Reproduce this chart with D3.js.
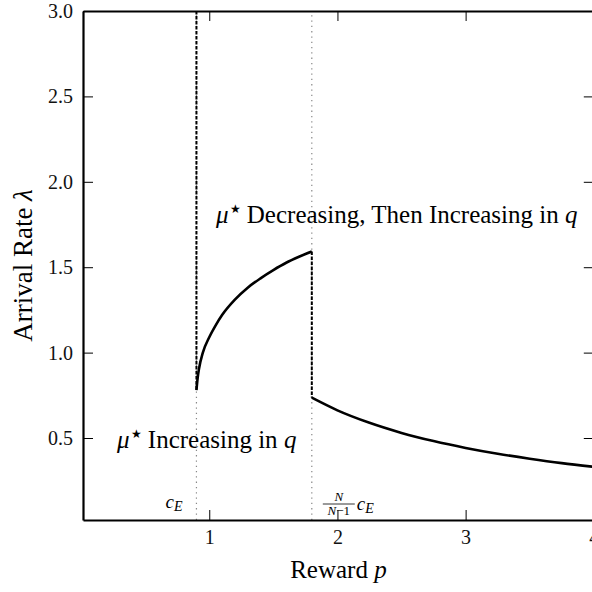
<!DOCTYPE html>
<html>
<head>
<meta charset="utf-8">
<script src="https://cdn.jsdelivr.net/npm/d3@7"></script>
<style>
  body { margin: 0; background: #fff; }
  svg { display: block; font-family: "Liberation Serif", "DejaVu Serif", serif; }
</style>
</head>
<body>
<svg></svg>
<script>
    // values
    risingP = [0.90, 0.91, 0.92, 0.95, 1.00, 1.05, 1.10, 1.20, 1.30, 1.40, 1.50, 1.60, 1.70, 1.80];
    risingL = [0.78, 0.855, 0.905, 1.00, 1.09, 1.16, 1.22, 1.31, 1.38, 1.435, 1.483, 1.526, 1.561, 1.592];
    fallingP = [1.80, 2.00, 2.25, 2.50, 2.75, 3.00, 3.25, 3.50, 3.75, 4.00];
    fallingL = [0.736, 0.662, 0.589, 0.530, 0.482, 0.442, 0.408, 0.379, 0.353, 0.331];
    jumpP = [0.9, 1.8];
    jumpTop = [3.0, 1.592];
    jumpBottom = [0.78, 0.736];
    thresholds = [0.9, 1.8];
    xticks = [1, 2, 3, 4];
    yticks = [0.5, 1.0, 1.5, 2.0, 2.5, 3.0];
    xdomain = [0.015, 4.0];
    ydomain = [0.02, 3.0];
</script>
<script>
    svg = d3.select("svg").attr("width", 592).attr("height", 592);
    xs = d3.scaleLinear().domain(xdomain).range([83, 593.8]);
    ys = d3.scaleLinear().domain(ydomain).range([520, 11]);

    //dotted threshold lines
    svg.append("g").selectAll("line").data(thresholds).enter().append("line")
    .attr("x1", function(d){return xs(d);})
    .attr("x2", function(d){return xs(d);})
    .attr("y1", ys(ydomain[0]))
    .attr("y2", ys(ydomain[1]))
    .attr("stroke", "#888")
    .attr("stroke-width", 1.2)
    .attr("stroke-dasharray", "1.3,4");

    //dashed jumps
    svg.append("g").selectAll("line").data(jumpP).enter().append("line")
    .attr("x1", function(d){return xs(d);})
    .attr("x2", function(d){return xs(d);})
    .attr("y1", function(d,i){return ys(jumpTop[i]);})
    .attr("y2", function(d,i){return ys(jumpBottom[i]);})
    .attr("stroke", "#000")
    .attr("stroke-width", 2)
    .attr("stroke-dasharray", "3.5,1.5");

    //the two curve pieces
    line = d3.line()
    .x(function(d){return xs(d[0]);})
    .y(function(d){return ys(d[1]);})
    .curve(d3.curveMonotoneX);
    pieces = [d3.zip(risingP, risingL), d3.zip(fallingP, fallingL)];
    svg.append("g").selectAll("path").data(pieces).enter().append("path")
    .attr("d", line)
    .attr("fill", "none")
    .attr("stroke", "#000")
    .attr("stroke-width", 2.6);

    //axes, ticks pointing inward
    function styleAxis(g) {
        g.attr("font-size", 20).attr("font-family", null);
        g.select(".domain").attr("stroke-width", 2.2);
        g.selectAll(".tick line").attr("stroke-width", 1);
        g.selectAll(".tick text").attr("fill", "#111");
    }
    svg.append("g").attr("transform", "translate(0," + ys(ydomain[0]) + ")")
    .call(d3.axisBottom(xs).tickValues(xticks).tickSize(-10).tickSizeOuter(0).tickPadding(10).tickFormat(d3.format("d")))
    .call(styleAxis);
    svg.append("g").attr("transform", "translate(0," + ys(ydomain[1]) + ")")
    .call(d3.axisTop(xs).tickValues(xticks).tickSize(-10).tickSizeOuter(0).tickFormat(""))
    .call(styleAxis);
    svg.append("g").attr("transform", "translate(" + xs(xdomain[0]) + ",0)")
    .call(d3.axisLeft(ys).tickValues(yticks).tickSize(-10).tickSizeOuter(0).tickPadding(10).tickFormat(d3.format(".1f")))
    .call(styleAxis);
    svg.append("g").attr("transform", "translate(" + xs(xdomain[1]) + ",0)")
    .call(d3.axisRight(ys).tickValues(yticks).tickSize(-10).tickSizeOuter(0).tickFormat(""))
    .call(styleAxis);

    //axis titles
    t = svg.append("text")
    .attr("x", (xs(xdomain[0]) + xs(xdomain[1])) / 2)
    .attr("y", 578)
    .attr("text-anchor", "middle")
    .attr("font-size", 25);
    t.append("tspan").text("Reward ");
    t.append("tspan").attr("font-style", "italic").text("p");

    t = svg.append("text")
    .attr("transform", "translate(32," + (ys(ydomain[0]) + ys(ydomain[1])) / 2 + ") rotate(-90)")
    .attr("text-anchor", "middle")
    .attr("font-size", 27);
    t.append("tspan").text("Arrival Rate ");
    t.append("tspan").attr("font-style", "italic").text("λ");

    //region notes
    function note(x, y, words) {
        var n = svg.append("text").attr("x", x).attr("y", y).attr("font-size", 25);
        n.append("tspan").attr("font-style", "italic").text("μ");
        n.append("tspan").attr("font-size", 12).attr("dy", -10).attr("dx", 1).text("★");
        n.append("tspan").attr("dy", 10).text(" " + words + " ");
        n.append("tspan").attr("font-style", "italic").text("q");
    }
    note(117, 448, "Increasing in");
    note(216, 223, "Decreasing, Then Increasing in");

    //threshold labels
    c = svg.append("text").attr("x", xs(thresholds[0]) - 31).attr("y", 508)
    .attr("font-size", 19).attr("font-style", "italic");
    c.append("tspan").text("c");
    c.append("tspan").attr("font-size", 14).attr("dy", 3).text("E");

    fx = xs(thresholds[1]) + 27;
    svg.append("text").attr("x", fx).attr("y", 501).attr("text-anchor", "middle")
    .attr("font-size", 13).attr("font-style", "italic").text("N");
    svg.append("line").attr("x1", fx - 16).attr("x2", fx + 16).attr("y1", 504).attr("y2", 504)
    .attr("stroke", "#000").attr("stroke-width", 0.8);
    d = svg.append("text").attr("x", fx).attr("y", 515).attr("text-anchor", "middle").attr("font-size", 13);
    d.append("tspan").attr("font-style", "italic").text("N");
    d.append("tspan").text("−1");
    c = svg.append("text").attr("x", fx + 18).attr("y", 510)
    .attr("font-size", 19).attr("font-style", "italic");
    c.append("tspan").text("c");
    c.append("tspan").attr("font-size", 14).attr("dy", 3).text("E");
</script>
</body>
</html>
